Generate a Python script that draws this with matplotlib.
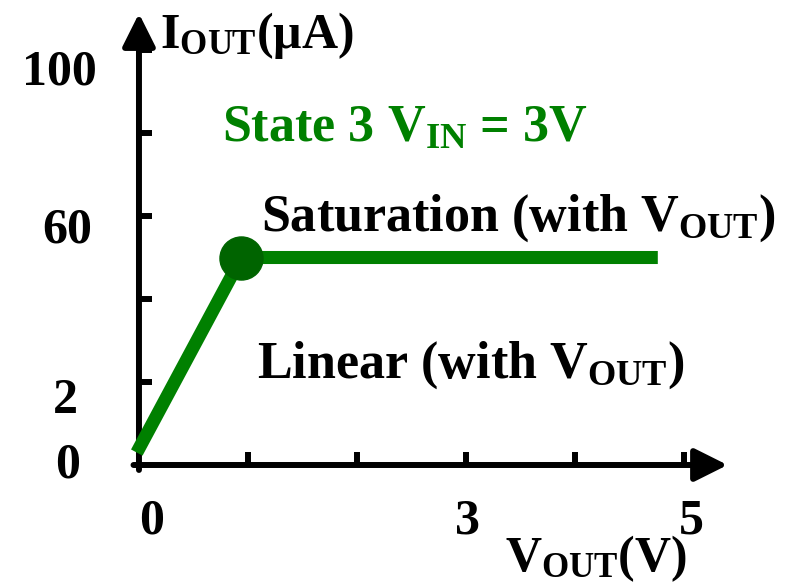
import matplotlib
matplotlib.use("Agg")
import matplotlib.pyplot as plt

plt.rcParams['font.family'] = ['Liberation Serif', 'DejaVu Serif']
plt.rcParams['font.weight'] = 'bold'
plt.rcParams['mathtext.fontset'] = 'custom'
plt.rcParams['mathtext.rm'] = 'Liberation Serif:bold'
plt.rcParams['mathtext.it'] = 'Liberation Serif:bold'
plt.rcParams['mathtext.bf'] = 'Liberation Serif:bold'
plt.rcParams['mathtext.default'] = 'rm'

# I-V curve, state 3 (V_IN = 3V)
vout = [-0.02, 0.94, 4.76]
iout = [3, 50, 50]
knee_v = 0.94
knee_i = 50

xticks = [1, 2, 3, 4, 5]
yticks = [20, 40, 60, 80, 100]
xlabels = ['0', '3', '5']
ylabels = ['100', '60', '2', '0']

GREEN = '#008000'
DARK_GREEN = '#006400'
FS = 36
FS_NOTE = 37.5

fig = plt.figure(figsize=(7.85, 5.88), dpi=100)
ax = fig.add_axes([0, 0, 1, 1])
ax.set_xlim(-1.275, 5.927)
ax.set_ylim(-29.64, 112.05)

for s in ['top', 'right']:
    ax.spines[s].set_visible(False)
ax.spines['left'].set_position(('data', 0))
ax.spines['bottom'].set_position(('data', 0))
ax.spines['left'].set_visible(False)
ax.spines['bottom'].set_visible(False)

ax.set_xticks(xticks)
ax.set_yticks(yticks)
ax.tick_params(direction='in', length=9.6, width=4.3, color='k',
               labelleft=False, labelbottom=False)

# axes with arrow heads
arrow = dict(arrowstyle='-|>,head_length=2.0,head_width=1.0', lw=4.3,
             color='k', mutation_scale=10, shrinkA=0, shrinkB=0)
ax.annotate('', xy=(5.40, 0), xytext=(-0.05, 0), arrowprops=arrow)
ax.annotate('', xy=(0, 108.8), xytext=(0, -1.2), arrowprops=arrow)

ax.plot(vout, iout, color=GREEN, lw=9.4, solid_capstyle='butt',
        solid_joinstyle='round', zorder=3)
ax.plot([knee_v], [knee_i], 'o', color=DARK_GREEN, ms=31, zorder=4)

# tick labels
for lab, (x, y) in zip(ylabels, [(-0.385, 91.6), (-0.43, 53.5),
                                (-0.56, 12.5), (-0.54, -2.9)]):
    ax.text(x, y, lab, fontsize=FS, ha='right', va='baseline')
for lab, x in zip(xlabels, [0.115, 3.01, 5.07]):
    ax.text(x, -16.4, lab, fontsize=FS, ha='center', va='baseline')

# axis titles
ax.text(0.19, 100.5, r'$\mathrm{I_{OUT}}$(μA)', fontsize=FS, va='baseline')
ax.text(3.36, -25.6, r'$\mathrm{V_{OUT}}$(V)', fontsize=FS, va='baseline')

# annotations
ax.text(0.76, 77.8, r'State 3 $\mathrm{V_{IN}}$ = 3V', fontsize=FS_NOTE,
        color=GREEN, va='baseline')
ax.text(1.12, 56.4, r'Saturation (with $\mathrm{V_{OUT}}$)', fontsize=FS_NOTE,
        va='baseline')
ax.text(1.08, 21, r'Linear (with $\mathrm{V_{OUT}}$)', fontsize=FS_NOTE,
        va='baseline')

fig.savefig('out.png', dpi=100)
